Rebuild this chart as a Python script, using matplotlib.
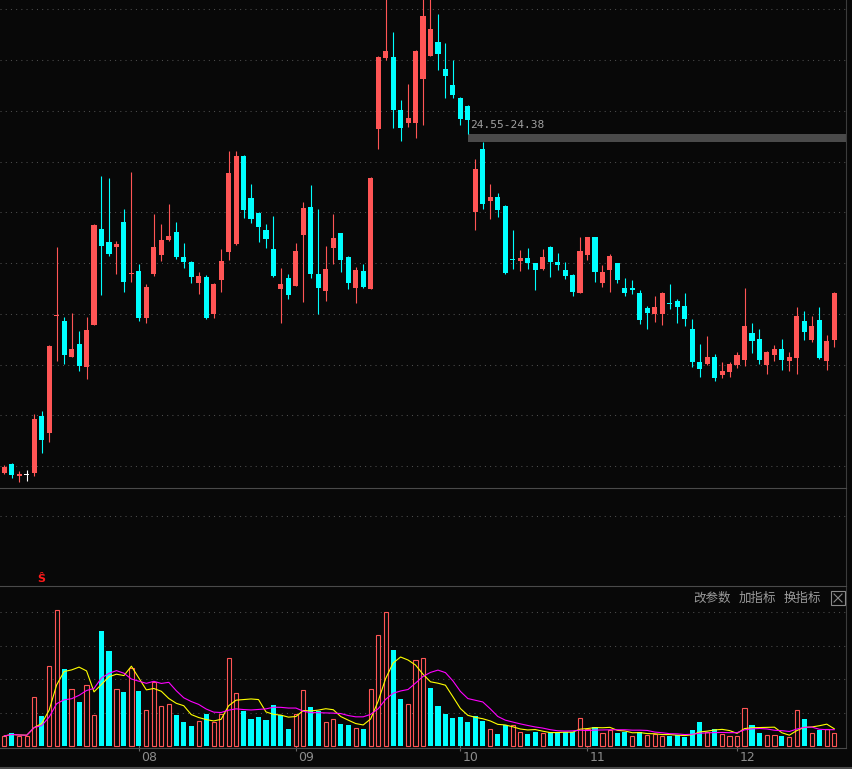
import numpy as np
import pandas as pd
import matplotlib
matplotlib.use('Agg')
import matplotlib.pyplot as plt
from matplotlib.lines import Line2D
from matplotlib.patches import Rectangle

plt.rcParams['font.family'] = ['Noto Sans CJK SC', 'DejaVu Sans']

# daily candles
opens = [17.86, 18.04, 17.80, 17.83, 17.86, 18.99, 18.65, 20.95, 20.86, 20.15,
         20.41, 19.95, 20.78, 22.67, 22.41, 22.32, 22.81, 21.79, 21.84, 20.92,
         21.78, 22.16, 22.45, 22.61, 22.12, 22.02, 21.61, 21.73, 21.00, 21.67,
         22.22, 22.38, 24.11, 23.28, 22.99, 22.65, 22.28, 21.49, 21.70, 21.55,
         22.55, 23.10, 21.78, 21.45, 22.30, 22.59, 22.12, 21.51, 21.84, 21.49,
         24.64, 26.04, 26.06, 25.02, 24.76, 24.76, 25.63, 26.08, 26.36, 25.82,
         25.51, 25.25, 25.09, 23.01, 24.25, 23.22, 23.30, 23.12, 22.06, 22.04,
         22.10, 22.00, 21.88, 22.32, 22.02, 21.86, 21.76, 21.41, 22.16, 22.51,
         21.61, 21.86, 22.00, 21.51, 21.51, 21.41, 21.11, 21.00, 21.00, 21.21,
         21.25, 21.15, 20.70, 20.05, 20.01, 20.15, 19.79, 19.85, 19.99, 20.09,
         20.62, 20.50, 19.99, 20.19, 20.31, 20.07, 20.13, 20.86, 20.48, 20.88,
         20.07, 20.48]
highs = [18.02, 18.06, 17.90, 17.92, 19.03, 19.09, 20.38, 22.32, 20.94, 21.02,
         20.66, 20.94, 22.76, 23.72, 23.68, 22.43, 23.07, 23.79, 21.98, 21.59,
         22.97, 22.77, 23.16, 22.81, 22.39, 22.04, 21.82, 21.76, 21.61, 22.28,
         24.21, 24.21, 24.12, 23.56, 23.00, 22.77, 22.93, 21.90, 21.78, 22.39,
         23.20, 23.54, 23.07, 22.34, 22.97, 22.60, 22.13, 21.92, 21.98, 23.69,
         26.07, 27.30, 26.55, 25.21, 25.53, 26.19, 27.35, 27.40, 26.91, 26.34,
         26.00, 25.27, 25.11, 24.05, 24.38, 23.56, 23.38, 23.14, 22.65, 22.26,
         22.30, 22.01, 22.28, 22.33, 22.20, 22.02, 21.78, 22.51, 22.52, 22.52,
         21.96, 22.18, 22.01, 21.70, 21.67, 21.47, 21.16, 21.35, 21.43, 21.59,
         21.29, 21.41, 20.90, 20.41, 20.56, 20.21, 20.05, 20.05, 20.25, 21.51,
         20.82, 20.70, 20.26, 20.39, 20.50, 20.25, 21.13, 21.06, 20.96, 21.13,
         20.58, 21.43]
lows = [17.84, 17.76, 17.69, 17.71, 17.80, 18.26, 18.47, 20.07, 20.01, 20.14,
        19.87, 19.72, 20.77, 21.37, 22.14, 21.78, 21.43, 21.63, 20.86, 20.82,
        21.74, 22.04, 22.43, 22.08, 21.90, 21.61, 21.39, 20.90, 20.92, 21.43,
        22.06, 22.36, 22.89, 22.79, 22.41, 22.30, 21.73, 20.82, 21.29, 21.54,
        21.23, 21.70, 21.00, 21.25, 21.98, 21.82, 21.49, 21.21, 21.51, 21.48,
        24.25, 26.00, 24.66, 24.41, 24.68, 24.46, 24.72, 26.07, 25.80, 25.25,
        25.25, 24.72, 24.55, 22.65, 23.07, 22.87, 22.91, 21.79, 21.88, 21.84,
        21.88, 21.47, 21.87, 21.73, 21.86, 21.69, 21.35, 21.40, 22.06, 21.63,
        21.53, 21.43, 21.61, 21.35, 21.39, 20.80, 20.70, 20.84, 20.78, 21.09,
        20.82, 20.76, 19.95, 19.75, 20.00, 19.68, 19.73, 19.75, 19.93, 19.97,
        20.23, 20.01, 19.81, 20.07, 19.89, 19.87, 19.81, 20.48, 20.44, 20.11,
        19.89, 20.35]
closes = [17.98, 17.82, 17.84, 17.83, 18.93, 18.51, 20.37, 20.96, 20.19, 20.31,
          19.97, 20.68, 22.75, 22.34, 22.18, 22.38, 21.63, 21.80, 20.92, 21.53,
          22.32, 22.45, 22.53, 22.12, 22.02, 21.73, 21.74, 20.92, 21.59, 22.04,
          23.77, 24.11, 23.05, 22.87, 22.71, 22.47, 21.75, 21.59, 21.37, 22.24,
          23.08, 21.78, 21.51, 21.88, 22.49, 22.06, 21.61, 21.86, 21.53, 23.68,
          26.06, 26.18, 25.02, 24.66, 24.86, 26.18, 26.87, 26.61, 26.12, 25.69,
          25.31, 24.84, 24.82, 23.85, 23.16, 23.30, 23.05, 21.80, 22.05, 22.10,
          22.00, 21.86, 22.12, 22.02, 21.96, 21.74, 21.43, 22.24, 22.51, 21.82,
          21.82, 22.14, 21.67, 21.41, 21.47, 20.88, 21.02, 21.13, 21.41, 21.20,
          21.13, 20.90, 20.05, 19.91, 20.15, 19.74, 19.87, 20.01, 20.19, 20.76,
          20.46, 20.09, 20.25, 20.31, 20.09, 20.15, 20.96, 20.64, 20.76, 20.13,
          20.46, 21.41]

volumes = [3.0, 3.9, 3.0, 3.0, 14.7, 9.0, 24.0, 40.7, 23.1, 17.1,
           13.2, 18.3, 9.3, 34.4, 28.4, 17.1, 16.2, 23.4, 16.5, 10.8,
           19.2, 12.0, 12.6, 9.3, 7.2, 6.0, 7.5, 9.6, 7.2, 9.6,
           26.3, 15.9, 10.5, 8.1, 8.7, 7.8, 12.3, 9.3, 5.1, 9.6,
           16.8, 11.7, 10.5, 7.2, 8.1, 6.6, 6.3, 5.4, 5.1, 17.1,
           33.2, 40.1, 28.7, 14.1, 12.6, 25.7, 26.3, 17.4, 12.0, 9.6,
           8.4, 8.7, 7.2, 9.0, 7.5, 5.1, 3.6, 6.3, 6.3, 4.2,
           3.6, 4.2, 3.9, 4.2, 4.2, 4.2, 4.2, 8.4, 5.1, 5.7,
           3.9, 4.8, 3.9, 4.2, 3.0, 4.2, 3.3, 3.6, 3.0, 3.0,
           3.3, 2.7, 4.8, 7.2, 4.2, 5.1, 3.6, 3.0, 3.0, 11.4,
           6.3, 3.9, 3.3, 3.3, 3.0, 2.7, 10.8, 8.1, 3.9, 4.8,
           5.1, 3.9]
# r = rising bar (hollow red), c = falling bar (filled cyan)
vol_dir = ("rcrrrcrrcr" "crrccrcrcr" "rrrcccrcrr" "rrcccccccr"
           "rccrrccrcr" "rrccrrrccc" "cccccrccrr" "ccrccccrrc"
           "rrccrcrrrc" "ccccrcrrrr" "ccrrcrrcrc" "rr")

month_pos = [18, 39, 61, 78, 98]
month_labels = ['08', '09', '10', '11', '12']
gap_label = '24.55-24.38'
buttons = ['改参数', '加指标', '换指标']

BG = '#080808'
RED = '#ff5555'
CYAN = '#00ffff'
GRID = '#4e4e4e'
LINE = '#3c3c3c'
W, H = 853, 769

fig = plt.figure(figsize=(W / 100, H / 100), dpi=100, facecolor=BG)


def panel(top, bottom):
    a = fig.add_axes([0, 1 - bottom / H, 846.5 / W, (bottom - top) / H])
    a.set_facecolor(BG)
    for s in a.spines.values():
        s.set_visible(False)
    a.spines['right'].set_visible(True)
    a.spines['right'].set_color(LINE)
    a.set_xticks([])
    a.set_yticks([])
    a.set_xlim(-0.575, 112.64)
    return a


ax = panel(0, 488)
mid = panel(488, 586)
axv = panel(586, 748)

x = np.arange(len(opens))
o, h, l, c = (np.array(v) for v in (opens, highs, lows, closes))

# price panel
ax.set_ylim(27.183 - 488 / 50.75, 27.183)
for p in np.arange(18, 28):
    ax.axhline(p, color=GRID, lw=0.75, ls=(0, (1, 4)), zorder=0)

col = np.where(c > o, RED, np.where(c < o, CYAN, '#ffffff'))
ax.vlines(x, l, h, colors=col, lw=0.8, zorder=3)
ax.bar(x, np.maximum(np.abs(c - o), 0.022), bottom=np.minimum(o, c),
       width=0.68, color=col, linewidth=0, zorder=4)

# gap band between day 62 low and day 64 high
ax.fill_between([62, 112.64], lows[62], highs[64], color='#4a4a4a', lw=0, zorder=1)
ax.text(62.28, lows[62] + 0.07, gap_label, color='#a0a0a0', fontsize=8,
        family='DejaVu Sans Mono', ha='left', va='bottom', zorder=5)

# empty middle panel
mid.set_ylim(0, 1)
mid.spines['top'].set_visible(True)
mid.spines['top'].set_color('#4a4a4a')
mid.axhline(0.711, color=GRID, lw=0.75, ls=(0, (1, 4)))
mid.text(5, 0.07, '\u015c', color='#ff1a1a', fontsize=8, fontweight='bold',
         family='DejaVu Sans', ha='center', va='center')

# volume panel
v = np.array(volumes)
up = np.array([d == 'r' for d in vol_dir])
axv.set_ylim(-0.6, 47.9)
for g in [10, 20, 30, 40]:
    axv.axhline(g, color=GRID, lw=0.75, ls=(0, (1, 4)), zorder=0)
axv.bar(x[~up], v[~up], width=0.68, color=CYAN, linewidth=0, zorder=3)
axv.bar(x[up], v[up], width=0.56, facecolor=BG, edgecolor=RED, linewidth=0.8, zorder=3)
ma5 = pd.Series(v).rolling(5, min_periods=1).mean()
ma10 = pd.Series(v).rolling(10, min_periods=1).mean()
axv.plot(x, ma5, color='#ffff00', lw=0.8, zorder=4)
axv.plot(x, ma10, color='#ff00ff', lw=0.8, zorder=4)

for side in ['top', 'bottom']:
    axv.spines[side].set_visible(True)
    axv.spines[side].set_color('#4a4a4a')
axv.set_xticks(month_pos)
axv.tick_params(axis='x', direction='inout', length=4, color='#666666', labelbottom=False)
for pos, lab in zip(month_pos, month_labels):
    axv.text(pos + 0.35, -0.06, lab, transform=axv.get_xaxis_transform(),
             color='#8c8c8c', fontsize=9, family='DejaVu Sans', ha='left', va='center')

# indicator buttons
for cx, lab in zip([712, 757.5, 802.5], buttons):
    fig.text(cx / W, 1 - 598 / H, lab, color='#9a9a9a', fontsize=9,
             ha='center', va='center')
fig.add_artist(Rectangle((831 / W, 1 - 605 / H), 14 / W, 14 / H, transform=fig.transFigure,
                         facecolor='none', edgecolor='#8a8a8a', lw=0.8))
for xs, ys in [([834, 842], [594, 602]), ([834, 842], [602, 594])]:
    fig.add_artist(Line2D([xx / W for xx in xs], [1 - yy / H for yy in ys],
                          color='#8a8a8a', lw=0.8))

fig.add_artist(Line2D([0, 1], [1 - 767.5 / H] * 2, color='#4a4a4a', lw=1.5))

fig.savefig('out.png', dpi=100, facecolor=BG)
